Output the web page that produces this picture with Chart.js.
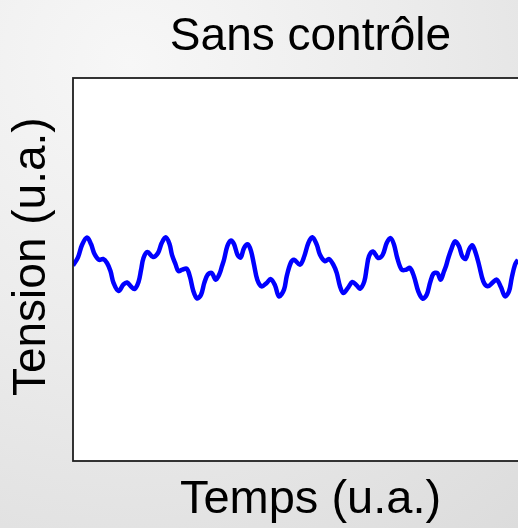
<!DOCTYPE html>
<html>
<head>
<meta charset="utf-8">
<script src="https://cdn.jsdelivr.net/npm/chart.js@4/dist/chart.umd.min.js"></script>
<style>
  html, body { margin: 0; padding: 0; overflow: hidden; width: 518px; height: 528px; }
  body { background: radial-gradient(circle at 25% 12%, #f7f7f7 0%, #ececec 45%, #dcdcdc 100%); }
  canvas { display: block; }
</style>
</head>
<body>
<canvas id="c" width="560" height="528"></canvas>
<script>
// Titles
const chartTitle = "Sans contrôle";
const xTitle = "Temps (u.a.)";
const yTitle = "Tension (u.a.)";

// Axis ranges (u.a.)
const xRange = [0, 100];
const yRange = [-10, 10];

// Series: time (u.a.) and voltage (u.a.)
const time = [0.00,1.05,1.89,2.95,3.79,4.53,5.47,6.32,7.16,7.89,8.53,9.58,10.63,11.37,12.21,12.95,13.79,14.32,14.84,15.68,16.84,17.89,18.67,19.52,20.32,20.84,21.62,22.17,23.01,23.94,24.63,25.33,26.11,26.95,27.64,28.36,29.20,30.04,30.84,31.37,31.79,32.48,33.20,33.89,34.63,35.31,36.00,36.80,37.47,38.11,38.80,39.73,40.78,41.62,42.53,43.37,44.42,44.99,45.83,46.53,47.79,48.69,49.54,50.38,51.31,52.00,53.05,53.89,54.80,55.52,56.21,56.91,57.96,58.80,59.73,60.42,61.33,61.83,62.32,63.16,64.27,65.20,66.04,66.88,67.58,68.27,69.20,70.11,70.95,71.79,72.69,73.62,74.46,75.16,75.85,76.69,77.41,78.11,78.53,79.01,79.73,80.42,81.26,81.96,82.67,83.37,84.06,84.78,85.47,86.38,87.31,88.27,89.20,90.11,90.95,91.79,92.36,93.05,93.68];
const tension = [0.21,0.63,1.28,1.67,1.33,0.81,0.50,0.55,0.34,-0.08,-0.70,-1.12,-0.78,-0.68,-0.89,-1.02,-0.65,-0.03,0.60,0.91,0.65,0.86,1.38,1.68,1.33,0.76,0.25,-0.08,-0.01,0.04,-0.39,-1.12,-1.51,-1.32,-0.70,-0.27,-0.18,-0.53,-0.23,0.18,0.51,1.21,1.51,1.33,0.77,0.63,1.12,1.31,0.97,0.25,-0.53,-0.88,-0.70,-0.50,-0.83,-1.41,-1.05,-0.36,0.34,0.51,0.25,0.69,1.38,1.68,1.30,0.77,0.43,0.55,0.25,-0.18,-0.88,-1.23,-0.93,-0.65,-0.83,-1.00,-0.62,0.08,0.70,0.94,0.60,0.77,1.38,1.64,1.30,0.60,-0.01,-0.01,0.08,-0.36,-1.14,-1.52,-1.32,-0.70,-0.23,-0.18,-0.53,-0.09,0.18,0.60,1.12,1.47,1.21,0.69,0.56,1.03,1.26,0.86,0.25,-0.62,-0.88,-0.70,-0.53,-0.93,-1.40,-1.14,-0.44,0.25,0.51];

const FONT = "'Liberation Sans', Arial, Helvetica, sans-serif";

const plotFrame = {
  id: 'plotFrame',
  beforeDatasetsDraw(chart) {
    const {ctx, chartArea: a} = chart;
    ctx.save();
    ctx.fillStyle = '#ffffff';
    ctx.fillRect(a.left, a.top, a.right - a.left, a.bottom - a.top);
    ctx.restore();
  },
  afterDatasetsDraw(chart) {
    const {ctx, chartArea: a} = chart;
    ctx.save();
    ctx.strokeStyle = '#1e1e1e';
    ctx.lineWidth = 1.8;
    ctx.strokeRect(a.left, a.top, a.right - a.left, a.bottom - a.top);
    ctx.restore();
  }
};

new Chart(document.getElementById('c'), {
  type: 'line',
  data: {
    datasets: [{
      data: time.map((t, i) => ({x: t, y: tension[i]})),
      borderColor: '#0000ff',
      borderWidth: 4.5,
      pointRadius: 0,
      tension: 0.35,
      fill: false
    }]
  },
  options: {
    responsive: false,
    animation: false,
    events: [],
    layout: { padding: { left: 0, right: 12, top: 0, bottom: 0 } },
    plugins: {
      legend: { display: false },
      tooltip: { enabled: false },
      title: {
        display: true,
        text: chartTitle,
        fullSize: false,
        color: '#000',
        font: { family: FONT, size: 46, weight: 'normal', lineHeight: 1.0 },
        padding: { top: 14, bottom: 18 }
      }
    },
    scales: {
      x: {
        type: 'linear',
        min: xRange[0], max: xRange[1],
        grid: { display: false, drawTicks: false },
        border: { display: false },
        ticks: { display: false },
        title: {
          display: true, text: xTitle, color: '#000',
          font: { family: FONT, size: 47, weight: 'normal', lineHeight: 1.0 },
          padding: { top: 16, bottom: 4 }
        }
      },
      y: {
        type: 'linear',
        min: yRange[0], max: yRange[1],
        grid: { display: false, drawTicks: false },
        border: { display: false },
        ticks: { display: false },
        title: {
          display: true, text: '  ' + yTitle, color: '#000',
          font: { family: FONT, size: 46, weight: 'normal', lineHeight: 1.0 },
          padding: { top: 9, bottom: 18 }
        }
      }
    }
  },
  plugins: [plotFrame]
});
</script>
</body>
</html>
